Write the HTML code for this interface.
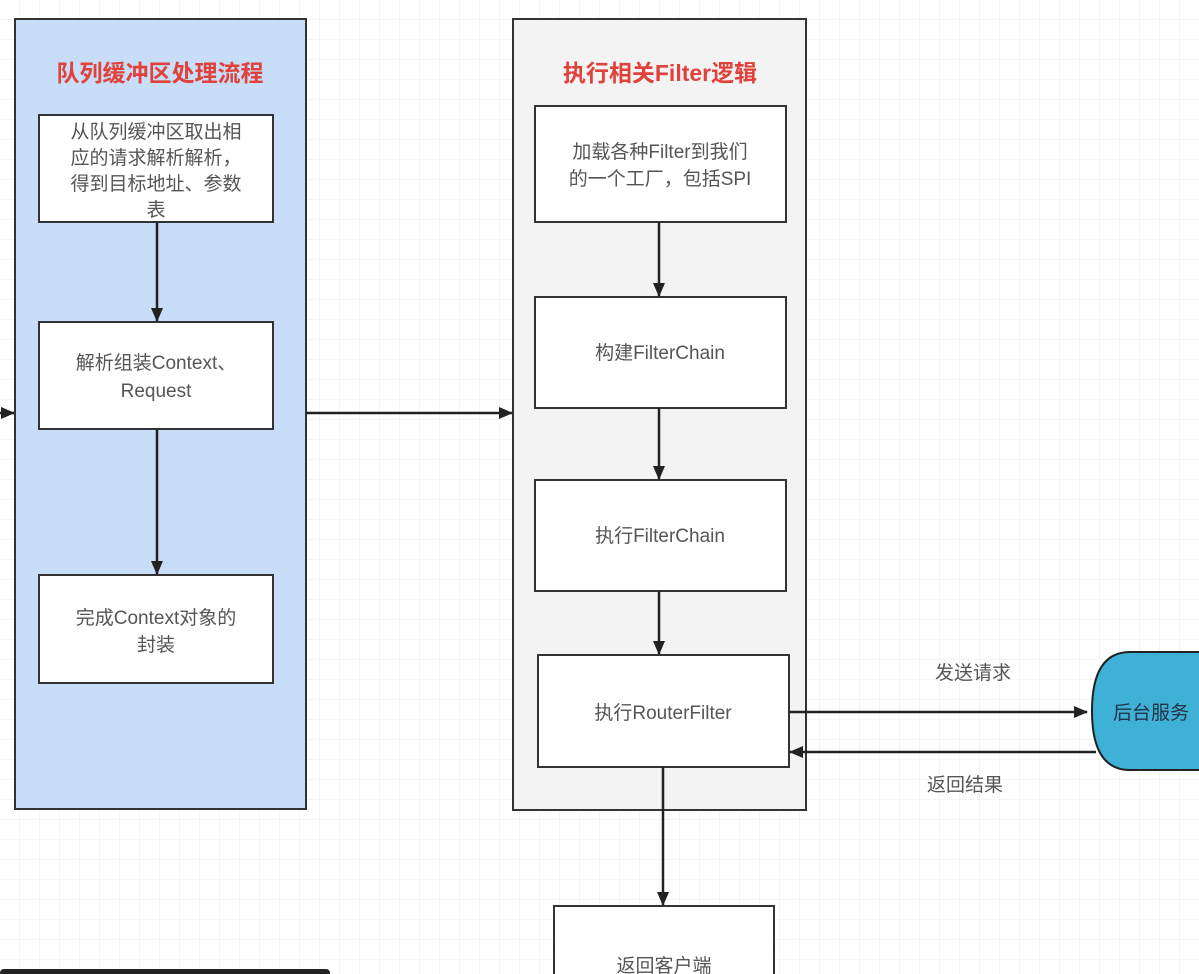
<!DOCTYPE html>
<html><head><meta charset="utf-8"><style>
html,body{margin:0;padding:0;background:#fff;width:1199px;height:974px;overflow:hidden}
text{font-family:"Liberation Sans","Noto Sans CJK SC",sans-serif}
</style></head><body>
<svg width="1199" height="974" xmlns="http://www.w3.org/2000/svg">
<defs>
<pattern id="g" width="20" height="20" patternUnits="userSpaceOnUse"><path d="M20 0V20M0 20H20" fill="none" stroke="#ebebeb" stroke-width="1"/></pattern>
<marker id="a" markerWidth="14" markerHeight="14" refX="13" refY="7" orient="auto" markerUnits="userSpaceOnUse"><path d="M0 1L14 7L0 13z" fill="#222"/></marker>
</defs>
<rect width="1199" height="974" fill="url(#g)"/>
<rect x="15" y="19" width="291" height="790" fill="#c8ddf7" stroke="#333" stroke-width="2"/>
<text x="160" y="81" text-anchor="middle" font-size="23" font-weight="bold" fill="#e0413a">队列缓冲区处理流程</text>
<rect x="39" y="115" width="234" height="107" fill="#fff" stroke="#333" stroke-width="2"/>
<text font-size="19" fill="#555" text-anchor="middle"><tspan x="156" y="138">从队列缓冲区取出相</tspan><tspan x="156" y="164">应的请求解析解析，</tspan><tspan x="156" y="190">得到目标地址、参数</tspan><tspan x="156" y="216">表</tspan></text>
<rect x="39" y="322" width="234" height="107" fill="#fff" stroke="#333" stroke-width="2"/>
<text font-size="19" fill="#555" text-anchor="middle"><tspan x="156" y="369">解析组装Context、</tspan><tspan x="156" y="397">Request</tspan></text>
<rect x="39" y="575" width="234" height="108" fill="#fff" stroke="#333" stroke-width="2"/>
<text font-size="19" fill="#555" text-anchor="middle"><tspan x="156" y="624">完成Context对象的</tspan><tspan x="156" y="651">封装</tspan></text>
<line x1="157" y1="222" x2="157" y2="321" stroke="#222" stroke-width="2.5" marker-end="url(#a)"/>
<line x1="157" y1="429" x2="157" y2="574" stroke="#222" stroke-width="2.5" marker-end="url(#a)"/>
<line x1="0" y1="413" x2="14" y2="413" stroke="#222" stroke-width="2.5" marker-end="url(#a)"/>
<line x1="306" y1="413" x2="512" y2="413" stroke="#222" stroke-width="2.5" marker-end="url(#a)"/>
<rect x="513" y="19" width="293" height="791" fill="#f3f3f3" stroke="#333" stroke-width="2"/>
<text x="660" y="81" text-anchor="middle" font-size="23" font-weight="bold" fill="#e0413a">执行相关Filter逻辑</text>
<rect x="535" y="106" width="251" height="116" fill="#fff" stroke="#333" stroke-width="2"/>
<text font-size="19" fill="#555" text-anchor="middle"><tspan x="660" y="158">加载各种Filter到我们</tspan><tspan x="660" y="185">的一个工厂，包括SPI</tspan></text>
<rect x="535" y="297" width="251" height="111" fill="#fff" stroke="#333" stroke-width="2"/>
<text x="660" y="359" font-size="19" fill="#555" text-anchor="middle">构建FilterChain</text>
<rect x="535" y="480" width="251" height="111" fill="#fff" stroke="#333" stroke-width="2"/>
<text x="660" y="542" font-size="19" fill="#555" text-anchor="middle">执行FilterChain</text>
<rect x="538" y="655" width="251" height="112" fill="#fff" stroke="#333" stroke-width="2"/>
<text x="663" y="719" font-size="19" fill="#555" text-anchor="middle">执行RouterFilter</text>
<line x1="659" y1="222" x2="659" y2="296" stroke="#222" stroke-width="2.5" marker-end="url(#a)"/>
<line x1="659" y1="408" x2="659" y2="479" stroke="#222" stroke-width="2.5" marker-end="url(#a)"/>
<line x1="659" y1="591" x2="659" y2="654" stroke="#222" stroke-width="2.5" marker-end="url(#a)"/>
<line x1="663" y1="767" x2="663" y2="905" stroke="#222" stroke-width="2.5" marker-end="url(#a)"/>
<path d="M1199 652H1130Q1092 652 1092 711Q1092 770 1130 770H1199" fill="#3fb0d6" stroke="#222" stroke-width="2"/>
<text x="1113" y="719" font-size="19" fill="#234">后台服务</text>
<line x1="789" y1="712" x2="1087" y2="712" stroke="#222" stroke-width="2.5" marker-end="url(#a)"/>
<line x1="1096" y1="752" x2="790" y2="752" stroke="#222" stroke-width="2.5" marker-end="url(#a)"/>
<text x="973" y="679" font-size="19" fill="#555" text-anchor="middle">发送请求</text>
<text x="965" y="791" font-size="19" fill="#555" text-anchor="middle">返回结果</text>
<rect x="554" y="906" width="220" height="80" fill="#fff" stroke="#333" stroke-width="2"/>
<text x="664" y="972" font-size="19" fill="#555" text-anchor="middle">返回客户端</text>
<rect x="0" y="969" width="330" height="10" rx="4" fill="#222"/>
</svg>
</body></html>
